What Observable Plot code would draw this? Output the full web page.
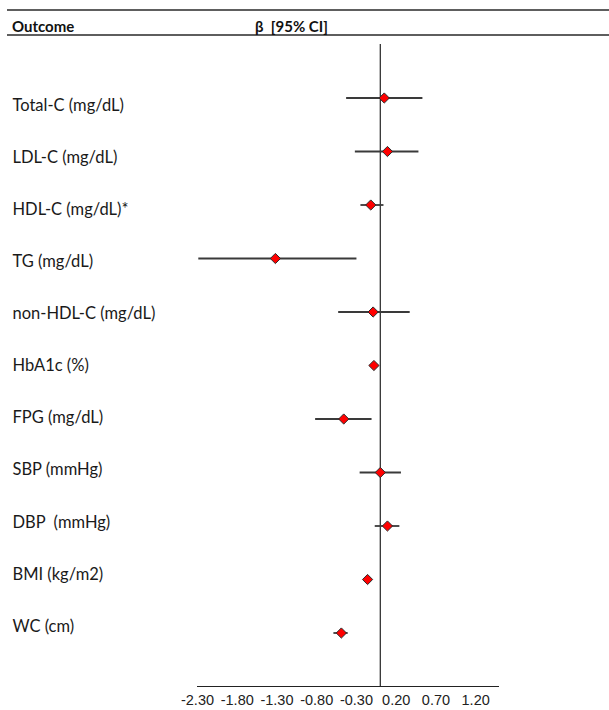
<!DOCTYPE html>
<html>
<head>
<meta charset="utf-8">
<script src="https://cdn.jsdelivr.net/npm/d3@7"></script>
<script src="https://cdn.jsdelivr.net/npm/@observablehq/plot@0.6"></script>
<style>
  html, body { margin: 0; padding: 0; background: #fff; }
  #wrap { position: relative; width: 609px; height: 710px; overflow: hidden; }
  #wrap svg { position: absolute; left: 0; top: 0; background: transparent; }
  #wrap svg text { white-space: pre; }
  .hdr { position: absolute; left: 7px; right: 0; top: 9px; height: 23px;
         border-top: 2px solid #5e5e5e; border-bottom: 2px solid #5e5e5e; }
  .htxt { position: absolute; font-family: Lato, "Open Sans", sans-serif; font-weight: bold;
          font-size: 15px; line-height: 15px; color: #111; white-space: pre; }
</style>
</head>
<body>
<div id="wrap">
  <div class="hdr"></div>
  <span class="htxt" id="h1" style="left:12px; top:19px;"></span>
  <span class="htxt" id="h2" style="left:255px; top:19px;"></span>
</div>
<script>
const headers = ["Outcome", "β  [95% CI]"];
const outcomes = ["Total-C (mg/dL)", "LDL-C (mg/dL)", "HDL-C (mg/dL)*", "TG (mg/dL)",
  "non-HDL-C (mg/dL)", "HbA1c (%)", "FPG (mg/dL)", "SBP (mmHg)", "DBP  (mmHg)",
  "BMI (kg/m2)", "WC (cm)"];
const beta  = [0.05, 0.09, -0.12, -1.32, -0.09, -0.08, -0.46, 0.00, 0.09, -0.16, -0.49];
const lower = [-0.43, -0.32, -0.25, -2.29, -0.53, -0.10, -0.82, -0.26, -0.07, -0.19, -0.59];
const upper = [0.53, 0.48, 0.04, -0.30, 0.37, -0.06, -0.11, 0.26, 0.24, -0.13, -0.41];
const xTicks = [-2.3, -1.8, -1.3, -0.8, -0.3, 0.2, 0.7, 1.2];

document.getElementById("h1").textContent = headers[0];
document.getElementById("h2").textContent = headers[1];

const rows = outcomes.map((name, i) => ({
  name, beta: beta[i], lo: lower[i], hi: upper[i], pos: outcomes.length - i
}));

const main = Plot.plot({
  width: 609, height: 710,
  marginLeft: 197, marginRight: 110, marginTop: 44, marginBottom: 24,
  style: { fontFamily: "'Liberation Sans', Arial, sans-serif", fontSize: "14.5px", color: "#222", background: "transparent" },
  x: { domain: [-2.3, 1.5], ticks: xTicks, tickFormat: d => d.toFixed(2), tickSize: 0, tickPadding: 8, label: null },
  y: { domain: [0, 12], axis: null },
  marks: [
    Plot.ruleY([0], { stroke: "#222", strokeWidth: 1.2 }),
    Plot.ruleX([0], { stroke: "#222", strokeWidth: 1.2 }),
    Plot.link(rows, { x1: "lo", x2: "hi", y1: "pos", y2: "pos", stroke: "#3a3a3a", strokeWidth: 1.8 }),
    Plot.dot(rows, { x: "beta", y: "pos", symbol: "diamond2", r: 4.6, fill: "#ff0000", stroke: "#2a2a2a", strokeWidth: 1 })
  ]
});

const labels = Plot.plot({
  width: 250, height: 710,
  marginLeft: 12, marginRight: 0, marginTop: 105, marginBottom: 84,
  style: { fontFamily: "Lato, 'Open Sans', sans-serif", fontSize: "16.5px", color: "#111", background: "transparent" },
  y: { domain: [1, 11], axis: null },
  marks: [
    Plot.text(rows, { y: "pos", text: "name", frameAnchor: "left", textAnchor: "start", fill: "#1a1a1a" })
  ]
});

const wrap = document.getElementById("wrap");
wrap.appendChild(main);
wrap.appendChild(labels);
</script>
</body>
</html>
